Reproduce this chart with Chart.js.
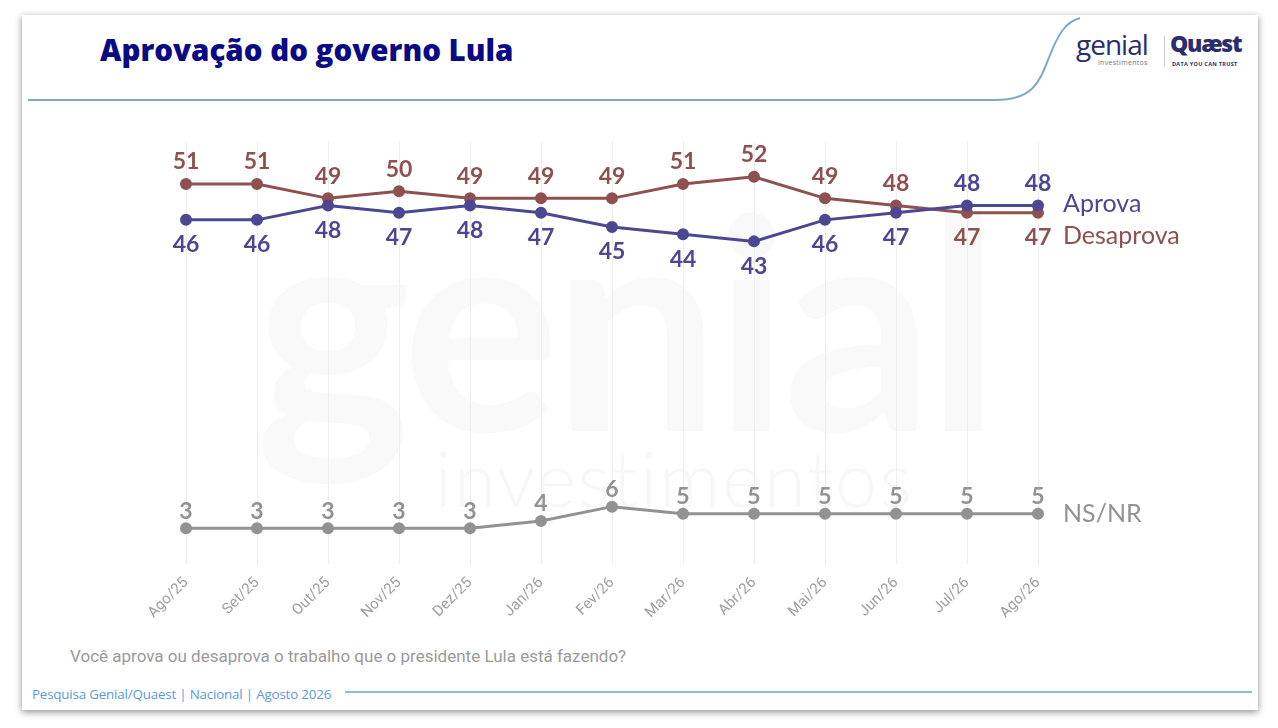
<!DOCTYPE html>
<html>
<head>
<meta charset="utf-8">
<script src="https://cdn.jsdelivr.net/npm/chart.js@4.4.1/dist/chart.umd.min.js"></script>
<style>
  html,body{margin:0;padding:0;background:#fff;width:1278px;height:728px;overflow:hidden;font-family:Lato,"Open Sans",sans-serif;}
  #card{position:absolute;left:22px;top:15px;width:1236px;height:695px;background:#fff;box-shadow:0 2px 7px rgba(0,0,0,0.45);}
  #title{position:absolute;left:100px;top:29px;font-family:"Open Sans",sans-serif;font-weight:800;font-size:29.5px;color:#0b0a85;letter-spacing:0px;white-space:nowrap;}
  #question{position:absolute;left:70px;top:646px;font-family:Roboto,sans-serif;font-size:17px;color:#9a9a9a;white-space:nowrap;}
  #footer{position:absolute;left:32px;top:685px;font-family:"Open Sans",sans-serif;font-size:13.4px;color:#5b9bd5;white-space:nowrap;letter-spacing:-0.2px;}
  #wm1{position:absolute;left:255px;top:170px;font-family:Lato,sans-serif;font-weight:700;font-size:295px;color:#f9f9f9;white-space:nowrap;letter-spacing:-6px;line-height:1;}
  #wm2{position:absolute;left:435px;top:440px;font-family:Lato,sans-serif;font-weight:300;font-size:76px;color:#f7f7f7;white-space:nowrap;letter-spacing:2px;line-height:1;}
  #logo1{position:absolute;left:1076px;top:30px;font-family:"Open Sans",sans-serif;font-size:28px;color:#2b2d6e;letter-spacing:-1px;line-height:1;}
  #logo1s{position:absolute;left:1098px;top:58px;font-family:"Open Sans",sans-serif;font-size:7px;color:#777;letter-spacing:0.3px;}
  #logo2{position:absolute;left:1170px;top:32px;font-family:"Open Sans",sans-serif;font-weight:800;font-size:23px;color:#2b2d6e;letter-spacing:-1.3px;line-height:1;}
  #logo2s{position:absolute;left:1172px;top:60px;font-family:"Open Sans",sans-serif;font-weight:700;font-size:5.5px;color:#2b2d6e;letter-spacing:0.3px;}
  #logodiv{position:absolute;left:1164px;top:36px;width:1px;height:30px;background:#ccc;}
  svg{position:absolute;left:0;top:0;}
  #chartwrap{position:absolute;left:0;top:0;width:1278px;height:728px;}
</style>
</head>
<body>
<div id="card"></div>
<div id="wm1">genial</div>
<div id="wm2">investimentos</div>
<svg width="1278" height="728">
  <path d="M28 100 L995 100 C1035 100 1040 80 1050 55 C1058 35 1065 22 1080 18" fill="none" stroke="#7ea9c9" stroke-width="2"/>
  <line x1="345" y1="692" x2="1252" y2="692" stroke="#8cb9de" stroke-width="2"/>
</svg>
<div id="title">Aprovação do governo Lula</div>
<div id="logo1">genial</div>
<div id="logo1s">investimentos</div>
<div id="logodiv"></div>
<div id="logo2">Quæst</div>
<div id="logo2s">DATA YOU CAN TRUST</div>
<div id="question">Você aprova ou desaprova o trabalho que o presidente Lula está fazendo?</div>
<div id="footer">Pesquisa Genial/Quaest | Nacional | Agosto 2026</div>
<div id="chartwrap"><canvas id="c" width="1278" height="728"></canvas></div>
<script>
const categories = ["Ago/25","Set/25","Out/25","Nov/25","Dez/25","Jan/26","Fev/26","Mar/26","Abr/26","Mai/26","Jun/26","Jul/26","Ago/26"];
const aprova     = [46,46,48,47,48,47,45,44,43,46,47,48,48];
const desaprova  = [51,51,49,50,49,49,49,51,52,49,48,47,47];
const nsnr       = [3,3,3,3,3,4,6,5,5,5,5,5,5];
const seriesNames = ["Aprova","Desaprova","NS/NR"];
const colors = ["#4d4793","#8e5150","#929292"];

const labelsPlugin = {
  id:'valueLabels',
  afterDatasetsDraw(chart){
    const ctx = chart.ctx;
    const ds = chart.data.datasets;
    ctx.save();
    ctx.textAlign = 'center';
    ctx.textBaseline = 'middle';
    ctx.font = "700 23px Lato";
    ds.forEach((d,i)=>{
      const meta = chart.getDatasetMeta(i);
      ctx.fillStyle = d.borderColor;
      meta.data.forEach((pt,j)=>{
        const v = d.data[j];
        let above;
        let off;
        if (i === 2) { above = true; off = 17; }
        else {
          const other = ds[i===0?1:0].data[j];
          above = v > other;
          off = above ? 22 : 25;
        }
        ctx.fillText(String(v), pt.x, above ? pt.y - off : pt.y + off);
      });
      const last = meta.data[meta.data.length-1];
      const nameOff = [-2, 23, 0][i];
      ctx.save();
      ctx.font = "400 25px Lato";
      ctx.textAlign = 'left';
      ctx.fillText(d.label, last.x + 25, last.y + nameOff);
      ctx.restore();
    });
    ctx.restore();
  }
};

const mk = (i, data) => ({
  label: seriesNames[i],
  data: data,
  borderColor: colors[i],
  backgroundColor: colors[i],
  borderWidth: 3,
  pointRadius: 4.5,
  pointHoverRadius: 4.5,
  tension: 0,
  fill: false
});

new Chart(document.getElementById('c'), {
  type: 'line',
  data: {
    labels: categories,
    datasets: [mk(0, aprova), mk(1, desaprova), mk(2, nsnr)]
  },
  plugins: [labelsPlugin],
  options: {
    responsive: false,
    animation: false,
    events: [],
    layout: { padding: { left: 186, right: 240, top: 141, bottom: 0 } },
    plugins: { legend: { display: false }, tooltip: { enabled: false } },
    scales: {
      y: { display: false, min: -2, max: 57 },
      x: {
        offset: false,
        grid: { display: true, color: '#eeeeee', lineWidth: 1, drawTicks: false },
        border: { display: false },
        ticks: { color: '#a0a0a0', font: { family: 'Roboto', size: 15 }, minRotation: 45, maxRotation: 45, padding: 10, autoSkip: false },
        afterFit: (s) => { s.height = 164; }
      }
    }
  }
});
</script>
</body>
</html>
